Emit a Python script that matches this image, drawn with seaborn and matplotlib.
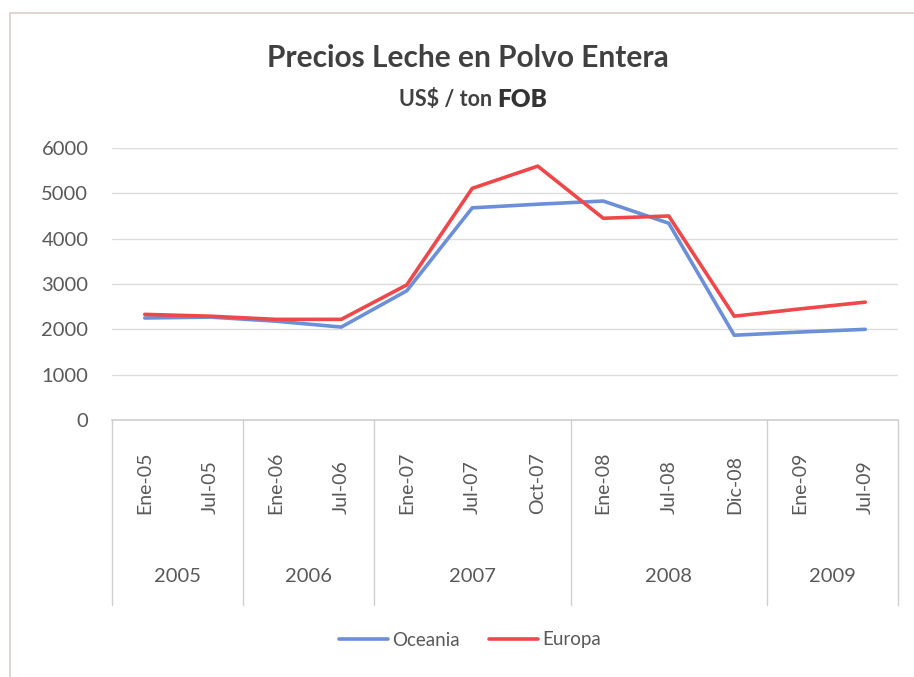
import pandas as pd
import matplotlib.pyplot as plt
import seaborn as sns
from matplotlib.patches import Rectangle
from matplotlib.lines import Line2D

# Datos
periodos = ["Ene-05", "Jul-05", "Ene-06", "Jul-06", "Ene-07", "Jul-07", "Oct-07",
            "Ene-08", "Jul-08", "Dic-08", "Ene-09", "Jul-09"]
anios = ["2005", "2006", "2007", "2008", "2009"]
periodos_por_anio = [2, 2, 3, 3, 2]
oceania = [2250, 2270, 2180, 2050, 2850, 4680, 4760, 4830, 4340, 1870, 1940, 2000]
europa = [2330, 2290, 2220, 2220, 2980, 5110, 5600, 4450, 4500, 2290, 2450, 2600]
series = ["Oceania", "Europa"]
colores = {"Oceania": "#6b8fd8", "Europa": "#f0474a"}

df = pd.DataFrame({
    "periodo": periodos * 2,
    "precio": oceania + europa,
    "region": ["Oceania"] * len(periodos) + ["Europa"] * len(periodos),
})

sns.set_theme(style="white")
plt.rcParams["font.family"] = ["Lato", "DejaVu Sans"]
gris = "#595959"

W, H = 914, 677
fig = plt.figure(figsize=(W / 100, H / 100), dpi=100)
fig.patch.set_facecolor("white")

# borde del gráfico
fig.add_artist(Rectangle((10 / W, 0 - 0.02), 1.0, 1 - 13 / H + 0.02, transform=fig.transFigure,
                         fill=False, edgecolor="#dccfc9", linewidth=1.2))

x0, x1, y0, y1 = 112, 898, 148, 420
ax = fig.add_axes([x0 / W, 1 - y1 / H, (x1 - x0) / W, (y1 - y0) / H])

sns.lineplot(data=df, x="periodo", y="precio", hue="region", palette=colores,
             sort=False, linewidth=2.6, ax=ax, legend=False)

n = len(periodos)
ax.set_xlim(-0.5, n - 0.5)
ax.set_ylim(0, 6000)
ax.set_yticks(range(0, 6001, 1000))
ax.yaxis.grid(True, color="#dcdcdc", linewidth=1)
ax.set_axisbelow(True)
for s in ["top", "right", "left"]:
    ax.spines[s].set_visible(False)
ax.spines["bottom"].set_color("#d0d0d0")
ax.set_xlabel("")
ax.set_ylabel("")
ax.tick_params(axis="y", length=0, pad=17, labelsize=14.5, labelcolor=gris)

ax.set_xticks(range(n))
ax.set_xticklabels(periodos, rotation=90, fontsize=14, color=gris)
for lbl in ax.get_xticklabels():
    lbl.set_va("bottom")
ax.tick_params(axis="x", length=0, pad=68)

# etiquetas de año y separadores
tr = ax.get_xaxis_transform()
alto = y1 - y0
bordes = [-0.5]
for k in periodos_por_anio:
    bordes.append(bordes[-1] + k)
for b in bordes:
    ax.plot([b, b], [0, -(605 - y1) / alto], transform=tr, color="#d0d0d0",
            linewidth=1, clip_on=False)
for anio, a, b in zip(anios, bordes[:-1], bordes[1:]):
    ax.text((a + b) / 2, -(577 - y1) / alto, anio, transform=tr, ha="center",
            va="center", fontsize=14.5, color=gris)

# títulos
fig.text(468 / W, 1 - 58 / H, "Precios Leche en Polvo Entera", ha="center", va="center",
         fontsize=21.5, fontweight="bold", color="#404040")
t1 = fig.text(497 / W, 1 - 100 / H, "US$ / ton ", ha="right", va="center",
              fontsize=15.5, fontweight="bold", color="#404040")
ax.annotate("FOB", xy=(1, 0.5), xycoords=t1, va="center", ha="left",
            fontsize=17.5, fontweight="heavy", color="#333333")

# leyenda
handles = [Line2D([0], [0], color=colores[s], linewidth=2.6) for s in series]
fig.legend(handles, series, loc="center", bbox_to_anchor=(470 / W, 1 - 640 / H),
           ncol=2, frameon=False, fontsize=13.5, handlelength=2.6, handletextpad=0.2,
           columnspacing=1.6, labelcolor=gris)

plt.savefig("out.png", dpi=100)
